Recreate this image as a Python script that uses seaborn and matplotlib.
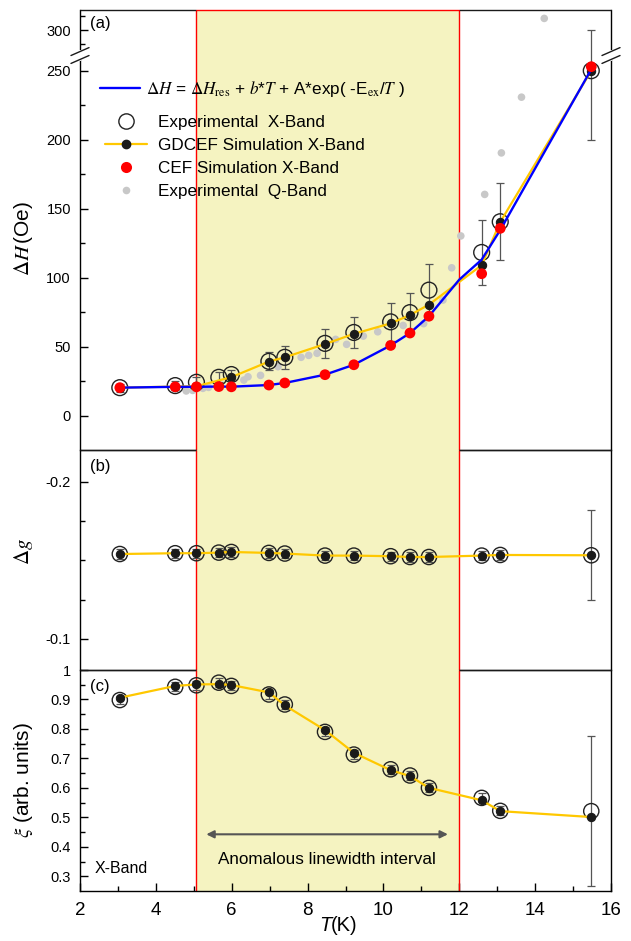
import numpy as np
import matplotlib
matplotlib.use("Agg")
import matplotlib.pyplot as plt
from matplotlib.ticker import FixedLocator, FixedFormatter
from matplotlib.lines import Line2D
import seaborn as sns

# ---------------- data ----------------
T = [3.05, 4.51, 5.07, 5.66, 5.99, 6.98, 7.40, 8.46, 9.22, 10.19, 10.70, 11.20, 12.59, 13.08, 15.48]

# panel (a): linewidth dH (Oe)
dH_exp = [20.2, 21.7, 24.1, 27.7, 29.7, 39.3, 42.2, 52.3, 60.2, 67.9, 74.6, 90.9, 118.2, 140.5, 250.0]
dH_err = [3.0, 3.5, 3.5, 3.5, 3.5, 6.6, 8.2, 10.4, 11.3, 14.0, 14.5, 18.7, 23.5, 28.0, 50.0]
T_gd_a = [3.05, 4.51, 5.07, 5.99, 6.98, 7.40, 8.46, 9.22, 10.19, 10.70, 11.20, 12.59, 13.08, 15.48]
dH_gdcef = [20.2, 21.0, 21.2, 27.8, 39.1, 42.2, 51.8, 59.2, 66.8, 72.8, 80.4, 109.0, 140.3, 250.0]
dH_cef = [20.2, 20.8, 20.8, 21.0, 20.8, 22.1, 23.6, 29.6, 36.8, 50.8, 59.8, 72.0, 102.8, 135.7, 252.9]
T_fit = [3.05, 4.51, 5.07, 5.66, 5.99, 6.98, 7.40, 8.46, 9.22, 10.19, 10.70, 11.20, 12.00, 12.59, 13.08, 15.48]
dH_fit = [20.2, 20.8, 20.8, 21.0, 20.9, 22.1, 23.6, 29.6, 36.8, 50.8, 59.8, 72.0, 98.5, 113.0, 134.5, 251.0]
T_Q = [4.80, 4.97, 5.24, 5.39, 6.32, 6.43, 6.76, 7.22, 7.83, 8.03, 8.25, 8.74, 9.03, 9.47, 9.85,
       10.52, 11.06, 11.57, 11.80, 12.04, 12.67, 13.11, 13.64, 14.24]
dH_Q = [17.8, 18.2, 19.7, 20.4, 25.7, 28.1, 29.1, 35.4, 42.2, 43.6, 45.1, 55.2, 51.6, 57.6, 60.7,
        65.3, 66.6, 83.7, 107.1, 130.2, 160.3, 190.4, 230.8, 308.4]

# panel (b): g-shift
dg_exp = [-0.1540, -0.1545, -0.1545, -0.1549, -0.1553, -0.1547, -0.1543, -0.1530, -0.1530,
          -0.1526, -0.1521, -0.1521, -0.1530, -0.1534, -0.1532]
dg_err = [0.003] * 14 + [0.0287]
dg_gdcef = [-0.1540, -0.1545, -0.1545, -0.1549, -0.1553, -0.1547, -0.1543, -0.1530, -0.1530,
            -0.1526, -0.1521, -0.1521, -0.1530, -0.1534, -0.1532]

# panel (c): xi
xi_exp = [0.898, 0.943, 0.948, 0.957, 0.946, 0.917, 0.883, 0.790, 0.713, 0.663, 0.642, 0.600, 0.566, 0.522, 0.521]
xi_err = [0.015] * 14 + [0.254]
xi_gdcef = [0.906, 0.946, 0.951, 0.952, 0.949, 0.924, 0.880, 0.796, 0.719, 0.660, 0.640, 0.600, 0.558, 0.521, 0.501]

shade_lo, shade_hi = 5.07, 12.0
arrow_T = [5.33, 11.70]

# ---------------- style ----------------
sns.set_theme(style="ticks")
plt.rcParams["font.family"] = ["Liberation Sans", "DejaVu Sans"]
plt.rcParams["mathtext.fontset"] = "stix"
plt.rcParams["axes.unicode_minus"] = False
for k in ("axes.edgecolor", "axes.labelcolor", "text.color", "xtick.color", "ytick.color"):
    plt.rcParams[k] = "black"

YEL = "#FFC800"
BLUE = "#0000FF"
RED = "#FF0000"
GREY = "#C8C8C8"
SHADE = "#F5F3C1"
ECOL = "#555555"
CIRC = "#222222"

fig = plt.figure(figsize=(6.31, 9.41), dpi=100)
L, W = 80 / 631, 531 / 631
ax_a = fig.add_axes([L, 491 / 941, W, 440 / 941])
ax_b = fig.add_axes([L, 271 / 941, W, 220 / 941])
ax_c = fig.add_axes([L, 50 / 941, W, 221 / 941])

# broken y scale for panel (a)
B1, GAP = 261.0, 20.5


def fwd(y):
    y = np.asarray(y, dtype=float)
    return np.where(y > B1, np.maximum(y - GAP, B1), y)


def inv(y):
    y = np.asarray(y, dtype=float)
    return np.where(y > B1, y + GAP, y)


ax_a.set_yscale("function", functions=(fwd, inv))

f1 = (shade_lo - 2) / 14
f2 = (shade_hi - 2) / 14

for ax in (ax_a, ax_b, ax_c):
    ax.patch.set_visible(False)
    ax.axvspan(shade_lo, shade_hi, facecolor=SHADE, edgecolor="none", zorder=0)
    ax.axvline(shade_lo, color=RED, lw=1.0, zorder=1)
    ax.axvline(shade_hi, color=RED, lw=1.0, zorder=1)
    ax.spines["top"].set_visible(False)
    for s in ("left", "right", "bottom"):
        ax.spines[s].set_linewidth(1.0)
        ax.spines[s].set_color("black")
    ax.set_xlim(2, 16)
    ax.tick_params(axis="y", direction="in", length=6, width=1, labelsize=10.5, pad=6.5, right=False)
    ax.tick_params(axis="y", which="minor", direction="in", length=3.5, width=1, right=False)


def hseg(ax, yf, mid_color=None):
    kw = dict(transform=ax.transAxes, lw=1.0, clip_on=False, solid_capstyle="butt", zorder=5)
    ax.plot([0, f1], [yf, yf], color="k", **kw)
    ax.plot([f2, 1], [yf, yf], color="k", **kw)
    if mid_color:
        ax.plot([f1, f2], [yf, yf], color=mid_color, **kw)


ax_a.spines["bottom"].set_visible(False)
ax_b.spines["bottom"].set_visible(False)
hseg(ax_a, 1.0, RED)
hseg(ax_a, 0.0)
hseg(ax_b, 1.0)
hseg(ax_b, 0.0)
hseg(ax_c, 1.0)

for ax in (ax_a, ax_b):
    ax.tick_params(axis="x", which="both", bottom=False, top=False, labelbottom=False)

# ---------------- panel (a) ----------------
sns.scatterplot(x=T_Q, y=dH_Q, ax=ax_a, color=GREY, s=30, edgecolor="none", zorder=2, legend=False)
ax_a.errorbar(T, dH_exp, yerr=dH_err, fmt="none", ecolor=ECOL, elinewidth=0.9, capsize=3, capthick=0.9, zorder=3)
sns.scatterplot(x=T, y=dH_exp, ax=ax_a, s=130, facecolor="none", edgecolor=CIRC, linewidth=1.0, zorder=4, legend=False)
sns.lineplot(x=T_gd_a, y=dH_gdcef, ax=ax_a, color=YEL, lw=1.6, sort=False, estimator=None, zorder=5,
             marker="o", markersize=6, markerfacecolor="k", markeredgecolor="k", legend=False)
sns.lineplot(x=T_fit, y=dH_fit, ax=ax_a, color=BLUE, lw=1.7, sort=False, estimator=None, zorder=6, legend=False)
sns.scatterplot(x=T, y=dH_cef, ax=ax_a, color=RED, s=60, edgecolor="none", zorder=7, legend=False)

ax_a.set_ylim(-25, 314.5)
ax_a.yaxis.set_major_locator(FixedLocator([0, 50, 100, 150, 200, 250, 300]))
ax_a.yaxis.set_major_formatter(FixedFormatter(["0", "50", "100", "150", "200", "250", "300"]))
ax_a.yaxis.set_minor_locator(FixedLocator([25, 75, 125, 175, 225, 290, 310]))
ax_a.set_ylabel(r"$\Delta H\,$(Oe)", fontsize=15)
ax_a.yaxis.set_label_coords(-0.085, 0.48)

# break marks
yb = (fwd(B1) - (-25)) / (fwd(314.5) - (-25))
for xs in (0.0, 1.0):
    ax_a.plot([xs, xs], [yb - 0.009, yb + 0.009], transform=ax_a.transAxes, color="white", lw=3,
              clip_on=False, zorder=10)
    for dy in (-0.009, 0.009):
        ax_a.plot([xs - 0.017, xs + 0.017], [yb + dy - 0.009, yb + dy + 0.009], transform=ax_a.transAxes,
                  color="k", lw=1.0, clip_on=False, zorder=11)

ax_a.text(0.019, 0.970, "(a)", transform=ax_a.transAxes, fontsize=12, va="center", ha="left")

h_fit = [Line2D([], [], color=BLUE, lw=1.7)]
l_fit = [r"$\Delta H$ = $\Delta H_{\mathrm{res}}$ + $b$*$T$ + A*exp( -E$_{\mathrm{ex}}$/$T$ )"]
leg1 = ax_a.legend(h_fit, l_fit, loc="center left", bbox_to_anchor=(0.0377, 0.82), frameon=False,
                   fontsize=12.3, handlelength=2.35, handletextpad=0.35, borderpad=0, borderaxespad=0)
ax_a.add_artist(leg1)

handles = [
    Line2D([], [], ls="none", marker="o", markersize=11, markerfacecolor="none", markeredgecolor=CIRC, markeredgewidth=1.0),
    Line2D([], [], color=YEL, lw=1.6, marker="o", markersize=6, markerfacecolor="k", markeredgecolor="k"),
    Line2D([], [], ls="none", marker="o", markersize=8, markerfacecolor=RED, markeredgecolor="none"),
    Line2D([], [], ls="none", marker="o", markersize=5.5, markerfacecolor=GREY, markeredgecolor="none"),
]
labels = [
    "Experimental  X-Band",
    "GDCEF Simulation X-Band",
    "CEF Simulation X-Band",
    "Experimental  Q-Band",
]
ax_a.legend(handles, labels, loc="upper left", bbox_to_anchor=(0.047, 0.762), frameon=False,
            fontsize=12.3, handlelength=2.45, handletextpad=0.65, labelspacing=0.47, borderpad=0,
            borderaxespad=0)

# ---------------- panel (b) ----------------
ax_b.errorbar(T, dg_exp, yerr=dg_err, fmt="none", ecolor=ECOL, elinewidth=0.9, capsize=3, capthick=0.9, zorder=3)
sns.scatterplot(x=T, y=dg_exp, ax=ax_b, s=120, facecolor="none", edgecolor=CIRC, linewidth=1.0, zorder=4, legend=False)
sns.lineplot(x=T, y=dg_gdcef, ax=ax_b, color=YEL, lw=1.6, sort=False, estimator=None, zorder=5,
             marker="o", markersize=6, markerfacecolor="k", markeredgecolor="k", legend=False)
ax_b.set_ylim(-0.0803, -0.2201)
ax_b.yaxis.set_major_locator(FixedLocator([-0.2, -0.1]))
ax_b.yaxis.set_major_formatter(FixedFormatter(["-0.2", "-0.1"]))
ax_b.yaxis.set_minor_locator(FixedLocator([-0.175, -0.15, -0.125]))
ax_b.set_ylabel(r"$\Delta g$", fontsize=15)
ax_b.yaxis.set_label_coords(-0.085, 0.54)
ax_b.text(0.019, 0.927, "(b)", transform=ax_b.transAxes, fontsize=12, va="center", ha="left")

# ---------------- panel (c) ----------------
ax_c.errorbar(T, xi_exp, yerr=xi_err, fmt="none", ecolor=ECOL, elinewidth=0.9, capsize=3, capthick=0.9, zorder=3)
sns.scatterplot(x=T, y=xi_exp, ax=ax_c, s=120, facecolor="none", edgecolor=CIRC, linewidth=1.0, zorder=4, legend=False)
sns.lineplot(x=T, y=xi_gdcef, ax=ax_c, color=YEL, lw=1.6, sort=False, estimator=None, zorder=5,
             marker="o", markersize=6, markerfacecolor="k", markeredgecolor="k", legend=False)
ax_c.set_ylim(0.25, 1.0)
ax_c.yaxis.set_major_locator(FixedLocator([0.3, 0.4, 0.5, 0.6, 0.7, 0.8, 0.9, 1.0]))
ax_c.yaxis.set_major_formatter(FixedFormatter(["0.3", "0.4", "0.5", "0.6", "0.7", "0.8", "0.9", "1"]))
ax_c.yaxis.set_minor_locator(FixedLocator([0.35, 0.45, 0.55, 0.65, 0.75, 0.85, 0.95]))
ax_c.set_ylabel(r"$\xi$ (arb. units)", fontsize=15)
ax_c.yaxis.set_label_coords(-0.085, 0.5)
ax_c.xaxis.set_major_locator(FixedLocator([2, 4, 6, 8, 10, 12, 14, 16]))
ax_c.xaxis.set_minor_locator(FixedLocator([3, 5, 7, 9, 11, 13, 15]))
ax_c.tick_params(axis="x", direction="in", length=6, width=1, labelsize=13.5, pad=8, top=False)
ax_c.tick_params(axis="x", which="minor", direction="in", length=3.5, width=1, top=False)
ax_c.set_xlabel("")
ax_c.text(0.019, 0.924, "(c)", transform=ax_c.transAxes, fontsize=12, va="center", ha="left")
ax_c.text(0.028, 0.10, "X-Band", transform=ax_c.transAxes, fontsize=11.5, va="center", ha="left")
ax_c.annotate("", xy=(arrow_T[1], 0.4424), xytext=(arrow_T[0], 0.4424),
              arrowprops=dict(arrowstyle="<|-|>", color=ECOL, lw=1.5, mutation_scale=11, shrinkA=0, shrinkB=0))
ax_c.text(8.51, 0.3576, "Anomalous linewidth interval", fontsize=12.3, ha="center", va="center")

# x label: italic T + (K)
xk = (80 + (8.62 - 2) * 531 / 14) / 631
fig.text(xk, 0.016, "T", fontsize=14.5, style="italic", ha="right", va="center")
fig.text(xk, 0.016, "(K)", fontsize=14.5, ha="left", va="center")

fig.savefig("out.png", dpi=100, facecolor="white")
